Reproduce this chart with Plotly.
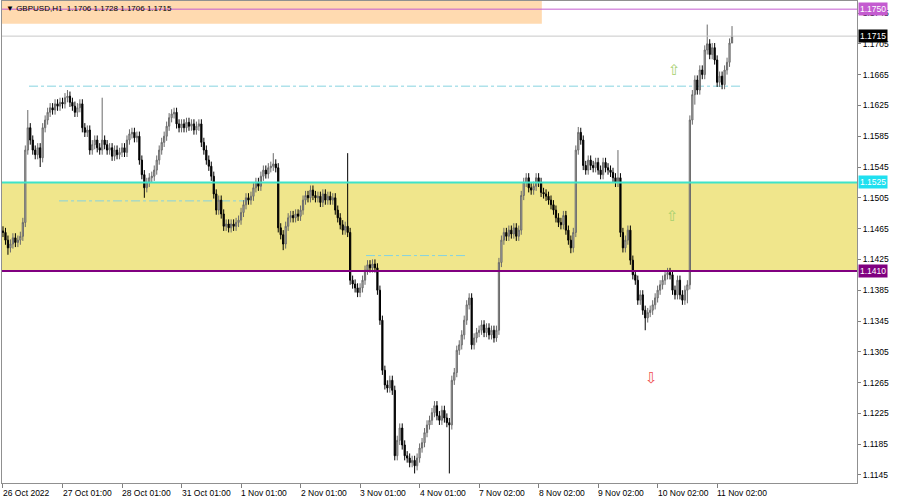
import plotly.graph_objects as go

symbol = "GBPUSD,H1"

# hourly closes, one list per trading day (24 bars each)
day0 = [1.1460,1.1450,1.1440,1.1445,1.1453,1.1447,1.1450,1.1455,1.1473,1.1567,1.1596,1.1580,1.1567,1.1561,1.1570,1.1557,1.1596,1.1606,1.1616,1.1622,1.1619,1.1627,1.1624,1.1629]
day1 = [1.1627,1.1635,1.1637,1.1629,1.1624,1.1616,1.1622,1.1627,1.1596,1.1590,1.1593,1.1567,1.1574,1.1580,1.1570,1.1567,1.1580,1.1574,1.1567,1.1570,1.1559,1.1567,1.1561,1.1564]
day2 = [1.1570,1.1564,1.1580,1.1588,1.1590,1.1583,1.1585,1.1554,1.1535,1.1518,1.1525,1.1531,1.1533,1.1541,1.1554,1.1567,1.1577,1.1585,1.1598,1.1609,1.1614,1.1616,1.1601,1.1596]
day3 = [1.1601,1.1596,1.1603,1.1598,1.1601,1.1593,1.1598,1.1601,1.1577,1.1567,1.1554,1.1546,1.1533,1.1510,1.1489,1.1502,1.1484,1.1468,1.1471,1.1466,1.1471,1.1468,1.1473,1.1476]
day4 = [1.1486,1.1496,1.1505,1.1502,1.1507,1.1518,1.1525,1.1520,1.1533,1.1541,1.1536,1.1544,1.1546,1.1549,1.1544,1.1466,1.1457,1.1445,1.1468,1.1479,1.1482,1.1479,1.1484,1.1481]
day5 = [1.1489,1.1502,1.1508,1.1505,1.1515,1.1508,1.1505,1.1507,1.1499,1.1510,1.1502,1.1507,1.1502,1.1505,1.1489,1.1479,1.1470,1.1463,1.1468,1.1460,1.1398,1.1393,1.1388,1.1382]
day6 = [1.1388,1.1398,1.1411,1.1418,1.1414,1.1419,1.1414,1.1385,1.1346,1.1281,1.1262,1.1258,1.1268,1.1255,1.1170,1.1190,1.1206,1.1184,1.1170,1.1167,1.1161,1.1164,1.1157,1.1167]
day7 = [1.1180,1.1187,1.1200,1.1210,1.1216,1.1226,1.1235,1.1222,1.1216,1.1229,1.1219,1.1213,1.1210,1.1268,1.1278,1.1307,1.1314,1.1327,1.1346,1.1366,1.1375,1.1314,1.1323,1.1330]
day8 = [1.1333,1.1340,1.1330,1.1336,1.1327,1.1333,1.1323,1.1333,1.1421,1.1450,1.1460,1.1455,1.1463,1.1458,1.1466,1.1455,1.1463,1.1508,1.1525,1.1531,1.1518,1.1515,1.1520,1.1531]
day9 = [1.1525,1.1512,1.1510,1.1507,1.1502,1.1496,1.1489,1.1479,1.1473,1.1470,1.1482,1.1463,1.1450,1.1440,1.1460,1.1567,1.1590,1.1580,1.1547,1.1541,1.1554,1.1547,1.1544,1.1551]
day10 = [1.1541,1.1535,1.1551,1.1544,1.1541,1.1538,1.1531,1.1525,1.1531,1.1460,1.1440,1.1450,1.1463,1.1424,1.1405,1.1398,1.1372,1.1379,1.1359,1.1349,1.1356,1.1359,1.1366,1.1375]
day11 = [1.1385,1.1392,1.1398,1.1405,1.1408,1.1405,1.1385,1.1379,1.1398,1.1379,1.1372,1.1385,1.1392,1.1606,1.1639,1.1658,1.1645,1.1671,1.1665,1.1697,1.1705,1.1691,1.1700,1.1684]
day12 = [1.1655,1.1663,1.1652,1.1671,1.1681,1.1706,1.1715]

first_open = 1.1462
typical_wick = 0.0006
# notable wick extremes (bar index -> price)
high_marks = {10: 1.1619, 26: 1.1645, 40: 1.1635, 69: 1.1622, 109: 1.1563, 139: 1.1563,
              188: 1.1381, 232: 1.1597, 248: 1.1567, 284: 1.1730, 294: 1.1728}
low_marks = {2: 1.1431, 15: 1.1545, 57: 1.1505, 113: 1.1437, 143: 1.1376, 166: 1.1147,
             180: 1.1147, 199: 1.1318, 229: 1.1433, 259: 1.1333, 276: 1.1368, 279: 1.1626,
             294: 1.1706}

day_ticks = [0, 24, 48, 72, 96, 120, 144, 168, 192, 216, 240, 264, 288]
day_labels = ["26 Oct 2022", "27 Oct 01:00", "28 Oct 01:00", "31 Oct 01:00", "1 Nov 01:00",
              "2 Nov 01:00", "3 Nov 01:00", "4 Nov 01:00", "7 Nov 02:00", "8 Nov 02:00",
              "9 Nov 02:00", "10 Nov 02:00", "11 Nov 02:00"]

price_ticks = [1.1145, 1.1185, 1.1225, 1.1265, 1.1305, 1.1345, 1.1385, 1.1425, 1.1465,
               1.1505, 1.1545, 1.1585, 1.1625, 1.1665, 1.1705, 1.1745]

# horizontal levels: (price, colour, width, label bg, label text colour)
levels = [(1.1750, "#C45BD0", 1, "#C45BD0", "white"),
          (1.1715, "#C8C8C8", 1, "#000000", "white"),
          (1.1525, "#3FE3C8", 2, "#1FE0F0", "white"),
          (1.1410, "#800080", 2, "#800080", "white")]
zone_low, zone_high = 1.1410, 1.1525
supply_low, supply_end_bar = 1.1731, 217.3
# dash-dot trend levels: (price, start bar, end bar)
dash_levels = [(1.1650, 10.5, 297.6), (1.1501, 22.6, 100.0), (1.1430, 146.4, 187.5)]
# arrow objects: (bar, price, direction)
signals = [(270.6, 1.1671, "up"), (269.8, 1.1481, "up"), (261.7, 1.1271, "down")]

closes = day0 + day1 + day2 + day3 + day4 + day5 + day6 + day7 + day8 + day9 + day10 + day11 + day12
opens = [first_open] + closes[:-1]
bars = list(range(len(closes)))
highs = [high_marks.get(i, max(o, c) + typical_wick) for i, (o, c) in enumerate(zip(opens, closes))]
lows = [low_marks.get(i, min(o, c) - typical_wick) for i, (o, c) in enumerate(zip(opens, closes))]

y_lo, y_hi = 1.11346, 1.17606
x_lo, x_hi = -0.4, 344.4

fig = go.Figure()
fig.add_trace(go.Candlestick(
    x=bars, open=opens, high=highs, low=lows, close=closes,
    increasing=dict(line=dict(color="#6a6a6a", width=1), fillcolor="#c0c0c0"),
    decreasing=dict(line=dict(color="#000000", width=1), fillcolor="#000000"),
    whiskerwidth=0, showlegend=False, hoverinfo="skip"))

shapes = []
shapes.append(dict(type="rect", xref="x", yref="y", x0=x_lo, x1=x_hi, y0=zone_low, y1=zone_high,
                   fillcolor="#F0E68C", line=dict(width=0), layer="below"))
shapes.append(dict(type="rect", xref="x", yref="y", x0=x_lo, x1=supply_end_bar, y0=supply_low, y1=y_hi,
                   fillcolor="#FFDAB0", line=dict(width=0), layer="below"))
for p, b0, b1 in dash_levels:
    shapes.append(dict(type="line", xref="x", yref="y", x0=b0, x1=b1, y0=p, y1=p,
                       line=dict(color="#86D3E0", width=1, dash="dashdot"), layer="below"))
for p, col, w, bg, fc in levels:
    shapes.append(dict(type="line", xref="paper", yref="y", x0=0, x1=1, y0=p, y1=p,
                       line=dict(color=col, width=w), layer="above"))

annotations = []
for p, col, w, bg, fc in levels:
    annotations.append(dict(xref="paper", yref="y", x=1, y=p, xanchor="left", yanchor="middle",
                            xshift=1, text=f"{p:.4f}", showarrow=False, bgcolor=bg, borderpad=1,
                            font=dict(family="Liberation Sans", size=8.5, color=fc)))
for t, lab in zip(day_ticks, day_labels):
    annotations.append(dict(xref="x", yref="paper", x=t, y=0, xanchor="left", yanchor="top",
                            xshift=-2, yshift=-3, text=lab, showarrow=False,
                            font=dict(family="Liberation Sans", size=8.5, color="#000")))
for b, p, d in signals:
    annotations.append(dict(xref="x", yref="y", x=b, y=p, text="⇧" if d == "up" else "⇩",
                            showarrow=False,
                            font=dict(family="DejaVu Sans", size=15,
                                      color="#A8D070" if d == "up" else "#F05050")))
o_last, h_last, l_last, c_last = opens[-1], highs[-1], lows[-1], closes[-1]
annotations.append(dict(xref="paper", yref="paper", x=0, y=1, xanchor="left", yanchor="top",
                        xshift=2, yshift=-1,
                        text=f"▼ {symbol}  {o_last:.4f} {h_last:.4f} {l_last:.4f} {c_last:.4f}",
                        showarrow=False, font=dict(family="Liberation Sans", size=8, color="#000")))

fig.update_layout(
    width=900, height=497, margin=dict(l=2, r=43, t=1, b=14),
    paper_bgcolor="white", plot_bgcolor="white",
    shapes=shapes, annotations=annotations,
    xaxis=dict(range=[x_lo, x_hi], rangeslider=dict(visible=False), showgrid=False, zeroline=False,
               tickvals=day_ticks, showticklabels=False, ticks="outside", ticklen=4,
               tickcolor="#808080", showline=True, linecolor="#909090", mirror=True),
    yaxis=dict(range=[y_lo, y_hi], side="right", showgrid=False, zeroline=False,
               tickvals=price_ticks, ticktext=[f"{v:.4f}" for v in price_ticks],
               ticks="outside", ticklen=3, tickcolor="#808080",
               tickfont=dict(family="Liberation Sans", size=8.5, color="#000"),
               showline=True, linecolor="#909090", mirror=True, automargin=False),
)

fig.write_html("out.html", config={"displayModeBar": False},
               post_script="document.body.style.margin='0';document.body.style.overflow='hidden';")
